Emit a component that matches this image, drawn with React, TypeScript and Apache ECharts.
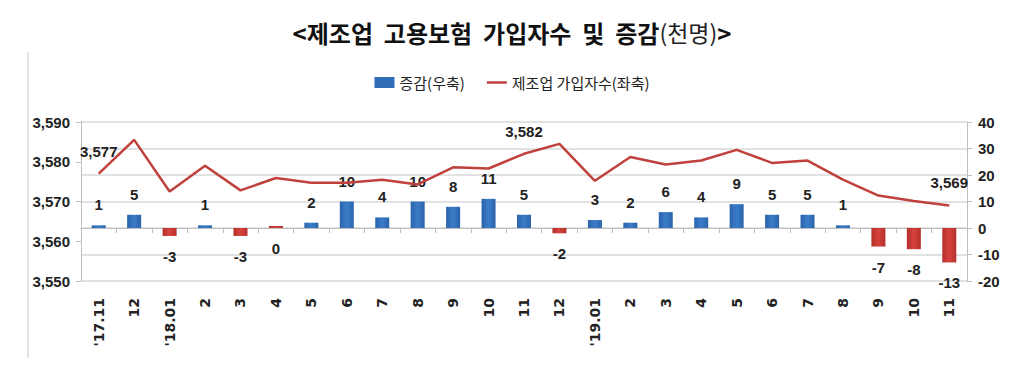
import React, { useEffect, useRef } from "react";
import * as echarts from "echarts";

const categories = [
  "'17.11", "12", "'18.01", "2", "3", "4", "5", "6", "7", "8", "9", "10", "11", "12",
  "'19.01", "2", "3", "4", "5", "6", "7", "8", "9", "10", "11",
];
const changeValues = [1, 5, -3, 1, -3, 0, 2, 10, 4, 10, 8, 11, 5, -2, 3, 2, 6, 4, 9, 5, 5, 1, -7, -8, -13];
const subscriberValues = [
  3577, 3585.5, 3572.5, 3579, 3572.8, 3575.9, 3574.7, 3574.7, 3575.5, 3574.3, 3578.6, 3578.3,
  3582, 3584.5, 3575.2, 3581.2, 3579.3, 3580.3, 3583, 3579.7, 3580.3, 3575.5, 3571.5, 3570.1, 3569,
];
const labeledLinePoints = [0, 12, 24];
const leftAxis = { min: 3550, max: 3590, interval: 10 };
const rightAxis = { min: -20, max: 40, interval: 10 };
const barName = "증감(우축)";
const lineName = "제조업 가입자수(좌축)";

const NUM_FONT = '"Liberation Sans", Arial, sans-serif';
const KR_FONT = '"Noto Sans CJK KR", "Noto Sans", sans-serif';

export default function App() {
  const ref = useRef<HTMLDivElement>(null);
  useEffect(() => {
    if (!ref.current) return;
    const chart = echarts.init(ref.current, undefined, { renderer: "svg" });
    const fmt = (v: number) => Math.round(v).toLocaleString("en-US");
    const numLabel = {
      fontFamily: NUM_FONT,
      fontWeight: "bold",
      fontSize: 15,
      color: "#222",
    };
    chart.setOption({
      animation: false,
      backgroundColor: "#ffffff",
      title: {
        text: "{b|<제조업  고용보험  가입자수  및  증감}{n|(천명)}{b|>}",
        left: "center",
        top: 15,
        textStyle: {
          rich: {
            b: { fontFamily: KR_FONT, fontWeight: "bold", fontSize: 24, color: "#111" },
            n: { fontFamily: KR_FONT, fontWeight: "normal", fontSize: 23, color: "#222" },
          },
        },
      },
      legend: {
        top: 70,
        left: "center",
        itemGap: 22,
        itemWidth: 20,
        itemHeight: 11,
        textStyle: { fontFamily: KR_FONT, fontSize: 15, color: "#222" },
        data: [
          { name: barName, icon: "rect", itemStyle: { color: "#2f6db8", opacity: 1 } },
          {
            name: lineName,
            icon: "path://M0 0 H24 V3 H0 Z",
            itemStyle: { color: "#c0403c", opacity: 1 },
          },
        ],
      },
      grid: { left: 81, right: 57, top: 122, height: 159, containLabel: false },
      xAxis: {
        type: "category",
        data: categories,
        boundaryGap: true,
        axisLine: { lineStyle: { color: "#bfbfbf", width: 1 } },
        axisTick: { show: true, length: 5, lineStyle: { color: "#bfbfbf" } },
        axisLabel: {
          rotate: 90,
          margin: 17,
          interval: 0,
          fontFamily: '"DejaVu Sans", sans-serif',
          fontWeight: "bold",
          fontSize: 14,
          color: "#222",
        },
      },
      yAxis: [
        {
          type: "value",
          position: "left",
          ...leftAxis,
          axisLine: { show: true, lineStyle: { color: "#bfbfbf" } },
          axisTick: { show: true, length: 5, lineStyle: { color: "#bfbfbf" } },
          splitLine: { show: false },
          axisLabel: { margin: 11, ...numLabel, formatter: (v: number) => fmt(v) },
        },
        {
          type: "value",
          position: "right",
          ...rightAxis,
          axisLine: { show: true, lineStyle: { color: "#bfbfbf" } },
          axisTick: { show: true, length: 5, lineStyle: { color: "#bfbfbf" } },
          splitLine: { show: true, lineStyle: { color: "#d9d9d9", width: 1.5 } },
          axisLabel: { margin: 11, ...numLabel },
        },
      ],
      series: [
        {
          name: barName,
          type: "bar",
          yAxisIndex: 1,
          barWidth: 14,
          barMinHeight: 2,
          data: changeValues.map((v) => ({
            value: v,
            itemStyle: {
              color: new echarts.graphic.LinearGradient(0, 0, 1, 0, v > 0
                ? [
                    { offset: 0, color: "#2a63aa" },
                    { offset: 0.5, color: "#3b7cc9" },
                    { offset: 1, color: "#2a63aa" },
                  ]
                : [
                    { offset: 0, color: "#b3302c" },
                    { offset: 0.5, color: "#d6423d" },
                    { offset: 1, color: "#b3302c" },
                  ]),
            },
            label: {
              show: true,
              position: v > 0 ? "top" : "bottom",
              distance: 13,
              ...numLabel,
            },
          })),
        },
        {
          name: lineName,
          type: "line",
          yAxisIndex: 0,
          symbol: "circle",
          symbolSize: 2,
          showSymbol: true,
          itemStyle: { color: "rgba(192,64,60,0)" },
          lineStyle: { color: "#c0403c", width: 2.5 },
          label: {
            show: true,
            position: "top",
            distance: 14,
            ...numLabel,
            formatter: (p: any) => (labeledLinePoints.includes(p.dataIndex) ? fmt(p.value) : ""),
          },
          labelLayout: { hideOverlap: false },
          data: subscriberValues,
        },
      ],
      graphic: [
        {
          type: "line",
          shape: { x1: 28, y1: 52, x2: 28, y2: 358 },
          style: { stroke: "#c8c8c8", lineWidth: 1 },
        },
      ],
    });
    return () => chart.dispose();
  }, []);
  return (
    <div
      ref={ref}
      style={{ position: "absolute", left: 0, top: 0, width: 1024, height: 391 }}
    />
  );
}
